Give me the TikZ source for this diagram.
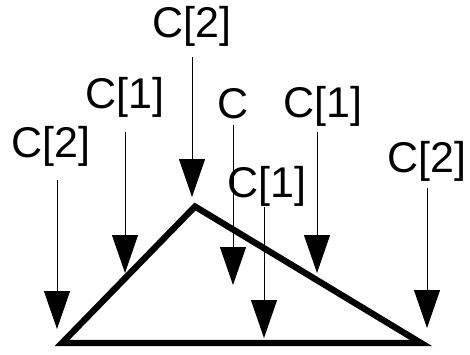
\documentclass[tikz,border=0pt]{standalone}
\usepackage{fontspec}
\setmainfont{Liberation Sans}
\usetikzlibrary{arrows.meta}
\begin{document}
\begin{tikzpicture}[x=1pt,y=-1pt,
  lbl/.style={font=\fontsize{43}{50}\selectfont, inner sep=0pt, anchor=base},
  ptr/.style={line width=1pt, -{Triangle[width=26pt,length=38pt]}},
  tri/.style={line width=6.3pt, line join=miter}]
\useasboundingbox (0,0) rectangle (470,354);
% triangle
\coordinate (L) at (62,343);
\coordinate (A) at (195,206.5);
\coordinate (R) at (421,343);
\draw[tri] (L) -- (A) -- (R) -- cycle;
% labels
\node[lbl] (t1) at (51,157) {C[2]};
\node[lbl] (t2) at (125,108) {C[1]};
\node[lbl] (t3) at (192,37) {C[2]};
\node[lbl] (t4) at (233,118) {C};
\node[lbl] (t5) at (267,197) {C[1]};
\node[lbl] (t6) at (323,117) {C[1]};
\node[lbl] (t7) at (427,172) {C[2]};
% arrow ends
\coordinate (s1) at (57,180);  \coordinate (e1) at (57,329);
\coordinate (s2) at (125,132); \coordinate (e2) at (125,273);
\coordinate (s3) at (192,57);  \coordinate (e3) at (192,197);
\coordinate (s4) at (233,125); \coordinate (e4) at (233,285);
\coordinate (s5) at (264,207); \coordinate (e5) at (264,338);
\coordinate (s6) at (317,132); \coordinate (e6) at (317,273);
\coordinate (s7) at (427,188); \coordinate (e7) at (427,328);
\foreach \i in {1,...,7} \draw[ptr] (s\i) -- (e\i);
\end{tikzpicture}
\end{document}
